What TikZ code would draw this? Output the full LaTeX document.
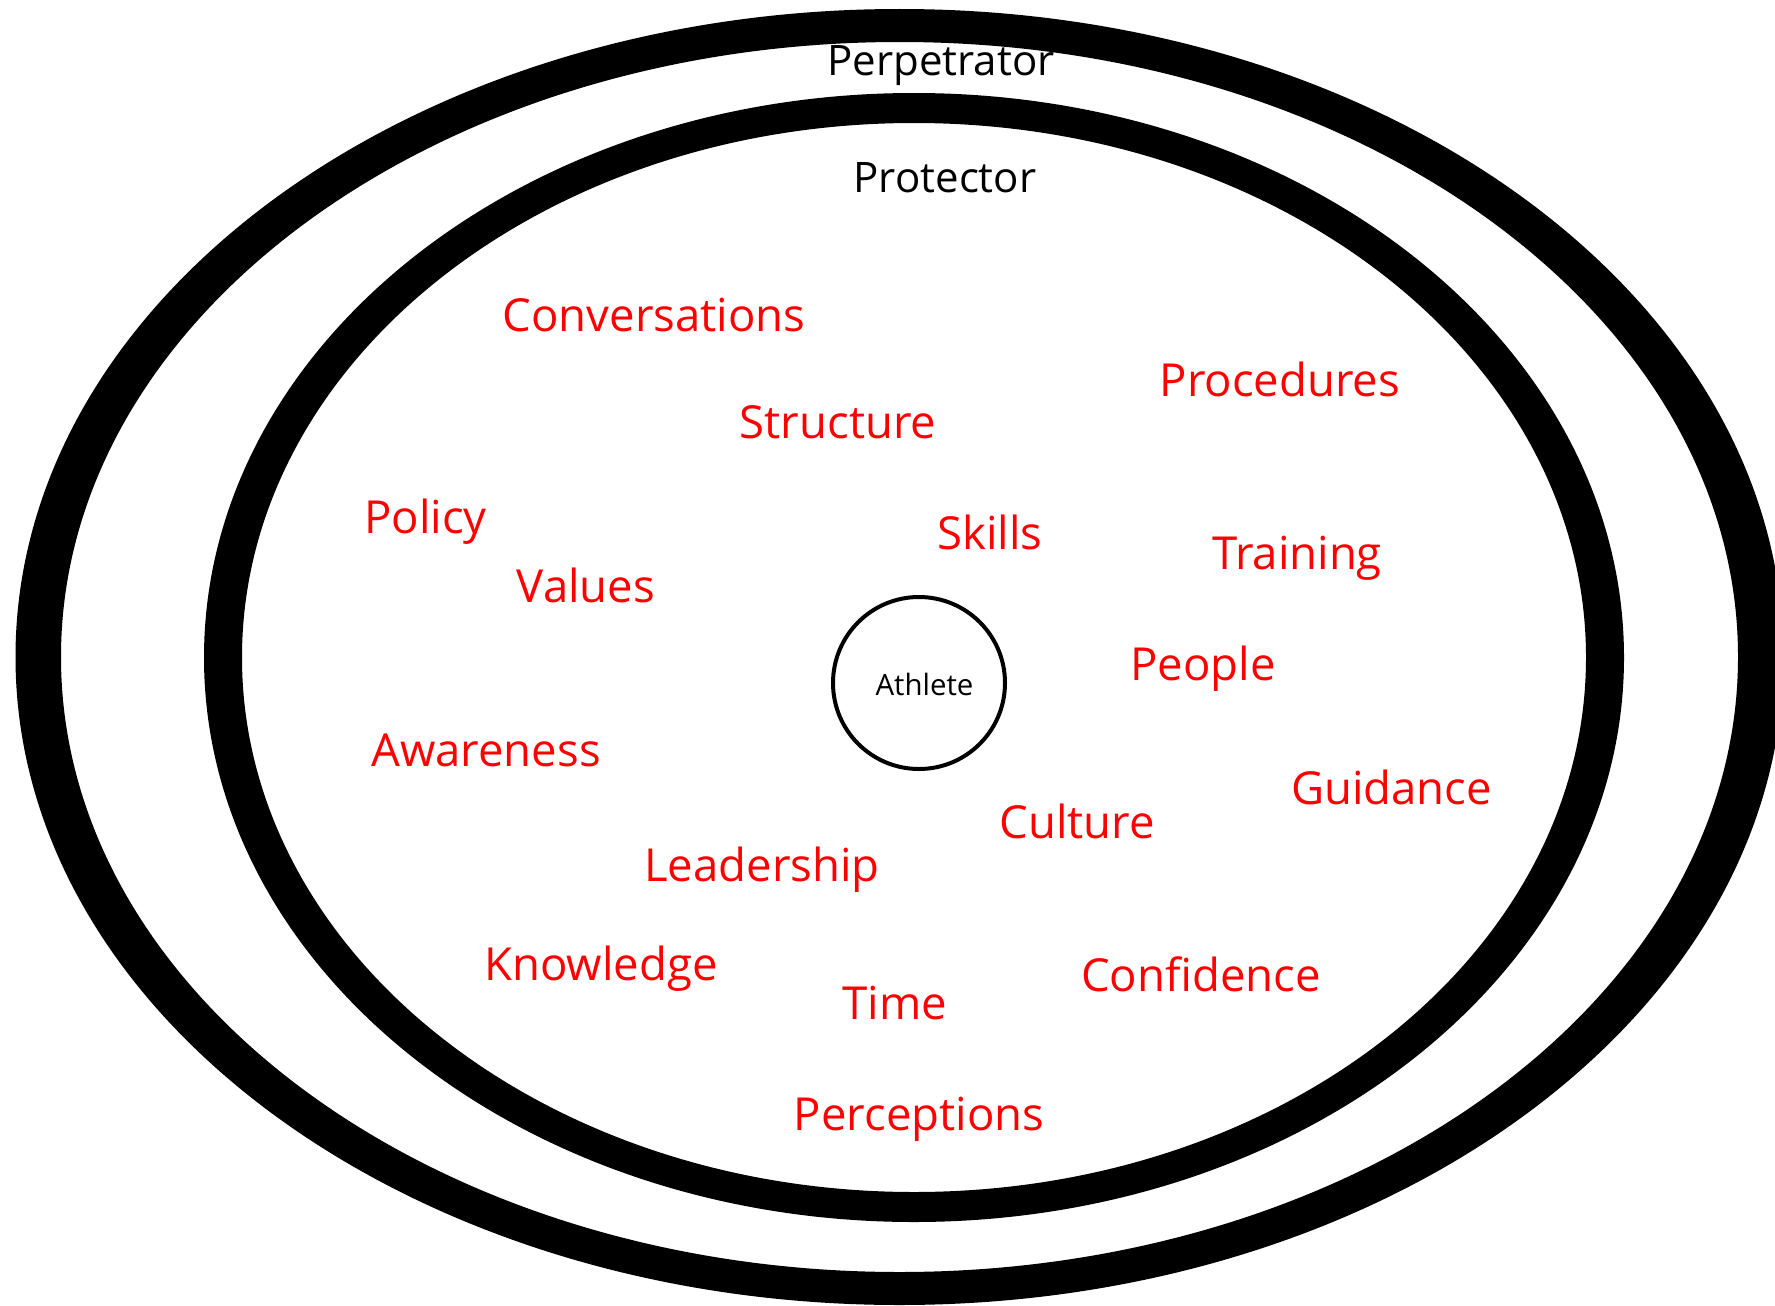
\documentclass[tikz,border=0pt]{standalone}
\usepackage{fontspec}
\setmainfont{Open Sans}
\tikzset{
  ringfill/.style={fill=black, even odd rule},
  word/.style={text=red, font=\fontsize{45.5}{50}\selectfont, inner sep=0pt, anchor=base},
  layer/.style={text=black, font=\fontsize{42}{46}\selectfont, inner sep=0pt, anchor=base},
  athletecircle/.style={circle, draw=black, line width=4pt, minimum size=172pt, inner sep=0pt},
  athletetext/.style={text=black, font=\fontsize{29.4}{32}\selectfont, inner sep=0pt, anchor=base}
}
\begin{document}
\begin{tikzpicture}[x=1pt, y=-1pt]
\useasboundingbox[fill=white] (0,0) rectangle (1775,1306);
% texts
\node[layer] (perp) at (941,75) {Perpetrator};
\node[layer] (prot) at (945,192) {Protector};
\node[word] (conv) at (654,331) {Conversations};
\node[word] (struct) at (838,438) {Structure};
\node[word] (proc) at (1280,396) {Procedures};
\node[word] (policy) at (425.5,533) {Policy};
\node[word] (skills) at (990,549) {Skills};
\node[word] (training) at (1297,569) {Training};
\node[word] (values) at (586,602) {Values};
\node[word] (people) at (1203,680) {People};
\node[word] (aware) at (486,766) {Awareness};
\node[word] (guid) at (1391.5,804) {Guidance};
\node[word] (culture) at (1077,838) {Culture};
\node[word] (lead) at (762,881) {Leadership};
\node[word] (know) at (601,980) {Knowledge};
\node[word] (conf) at (1201,991) {Confidence};
\node[word] (time) at (895,1019) {Time};
\node[word] (perc) at (919,1130) {Perceptions};
% athlete
\node[athletecircle] (athlete) at (919,683) {};
\node[athletetext] (athletelbl) at (924.5,695) {Athlete};
% rings
\fill[ringfill] (899.5,657) ellipse [x radius=884, y radius=648]
                (899.5,657) ellipse [x radius=838.5, y radius=615];
\fill[ringfill] (914,657.5) ellipse [x radius=710, y radius=564.5]
                (914,657.5) ellipse [x radius=672, y radius=534.5];
\end{tikzpicture}
\end{document}
